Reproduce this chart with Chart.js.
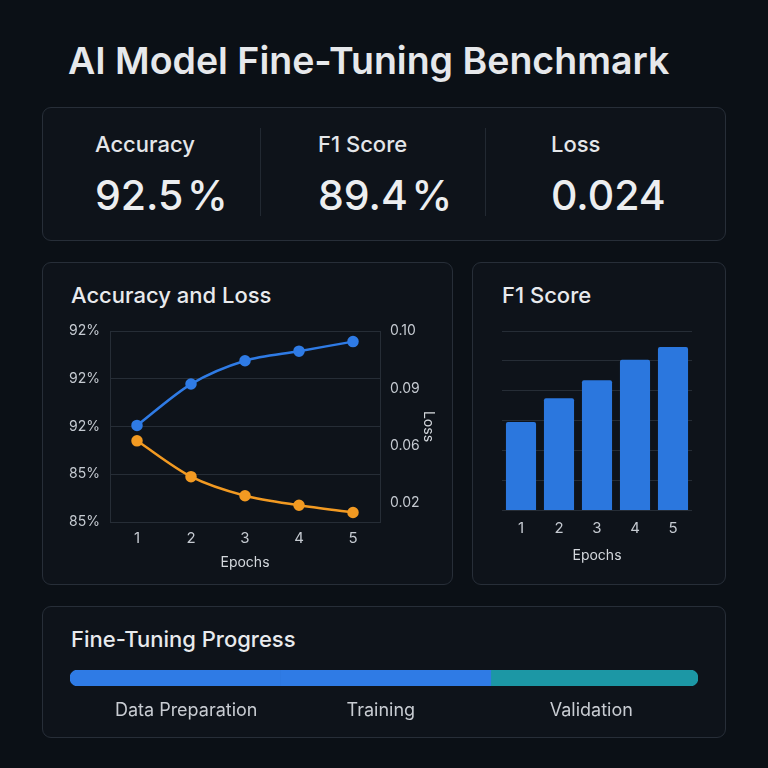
<!DOCTYPE html>
<html>
<head>
<meta charset="utf-8">
<title>AI Model Fine-Tuning Benchmark</title>
<script src="https://cdn.jsdelivr.net/npm/chart.js@4.4.1/dist/chart.umd.min.js"></script>
<style>
  html, body { margin: 0; padding: 0; }
  body {
    width: 768px; height: 768px; overflow: hidden; position: relative;
    background: #0b1016; font-family: Inter, "Noto Sans", sans-serif; color: #e8eaed;
  }
  .abs { position: absolute; }
  .card {
    position: absolute; box-sizing: border-box;
    background: #0e131a; border: 1px solid #272e38; border-radius: 9px;
  }
  .title { left: 68px; top: 42px; font-size: 37.5px; line-height: 38px; font-weight: 600; color: #e6e8eb; white-space: nowrap; }
  .kpi-label { font-size: 22px; line-height: 22px; font-weight: 500; color: #e4e6e9; white-space: nowrap; }
  .kpi-value { font-size: 41px; line-height: 42px; font-weight: 500; color: #eceef0; white-space: nowrap; }
  .divider { width: 1px; background: #222932; }
  .card-title { font-size: 22px; line-height: 22px; font-weight: 500; color: #e8eaed; white-space: nowrap; }
  canvas { position: absolute; }
</style>
</head>
<body>
<div class="abs title">AI Model Fine-Tuning Benchmark</div>

<div class="card" style="left:42px;top:107px;width:684px;height:134px;"></div>
<div id="kpis"></div>
<div class="abs divider" style="left:260px;top:128px;height:88px;"></div>
<div class="abs divider" style="left:485px;top:128px;height:88px;"></div>

<div class="card" style="left:42px;top:262px;width:411px;height:323px;"></div>
<div class="abs card-title" style="left:71px;top:284px;">Accuracy and Loss</div>
<canvas id="lineChart" style="left:42px;top:262px;" width="411" height="323"></canvas>

<div class="card" style="left:472px;top:262px;width:254px;height:323px;"></div>
<div class="abs card-title" style="left:502px;top:284px;">F1 Score</div>
<canvas id="barChart" style="left:472px;top:262px;" width="254" height="323"></canvas>

<div class="card" style="left:42px;top:606px;width:684px;height:132px;"></div>
<div class="abs card-title" style="left:71px;top:628px;">Fine-Tuning Progress</div>
<canvas id="progressChart" style="left:42px;top:606px;" width="684" height="132"></canvas>

<script>
// KPI numbers
const kpiLabels = ["Accuracy", "F1 Score", "Loss"];
const kpiValues = ["92.5\u200a%", "89.4\u200a%", "0.024"];
const kpiX = [95, 318, 551];

// Accuracy / loss per epoch
const epochs = ["1", "2", "3", "4", "5"];
const accuracy = [88.55, 90.5, 91.6, 92.05, 92.5];
const loss = [0.054, 0.039, 0.031, 0.027, 0.024];
const accTicks = [84, 86.25, 88.5, 90.75, 93];
const accTickLabels = ["85%", "85%", "92%", "92%", "92%"];
const lossTicks = [0.028, 0.052, 0.076, 0.1];
const lossTickLabels = ["0.02", "0.06", "0.09", "0.10"];

// F1 score per epoch
const f1Scores = [73.7, 78.5, 82.1, 86.2, 88.8];

// progress stages
const stages = ["Data Preparation", "Training", "Validation"];
const stageValues = [33.5, 33.5, 33];
const stageLabelAt = [18.5, 49.5, 83];

const BLUE = "#2f7be5";
const ORANGE = "#f29a22";
const TEAL = "#1c97a5";
const GRID = "#262d36";
const TICK = "#c5cad1";

Chart.defaults.font.family = "Inter, 'Noto Sans', sans-serif";
Chart.defaults.color = TICK;
Chart.defaults.animation = false;

// fill the KPI row
const kpiBox = document.getElementById("kpis");
for (let i = 0; i < kpiLabels.length; i++) {
    const l = document.createElement("div");
    l.className = "abs kpi-label";
    l.style.left = kpiX[i] + "px";
    l.style.top = "133px";
    l.textContent = kpiLabels[i];
    kpiBox.appendChild(l);
    const v = document.createElement("div");
    v.className = "abs kpi-value";
    v.style.left = kpiX[i] + "px";
    v.style.top = "174px";
    v.textContent = kpiValues[i];
    kpiBox.appendChild(v);
}

// Accuracy and Loss
new Chart(document.getElementById("lineChart"), {
    type: "line",
    data: {
        labels: epochs,
        datasets: [
            {
                label: "Accuracy",
                data: accuracy,
                yAxisID: "y",
                borderColor: BLUE,
                backgroundColor: BLUE,
                borderWidth: 2.5,
                pointRadius: 4.5,
                tension: 0.3
            },
            {
                label: "Loss",
                data: loss,
                yAxisID: "y1",
                borderColor: ORANGE,
                backgroundColor: ORANGE,
                borderWidth: 2.5,
                pointRadius: 4.5,
                tension: 0.3
            }
        ]
    },
    options: {
        responsive: false,
        layout: { padding: { top: 69, left: 0, right: 0, bottom: 0 } },
        plugins: { legend: { display: false }, tooltip: { enabled: false } },
        scales: {
            x: {
                offset: true,
                grid: { display: false, drawTicks: false },
                border: { color: GRID },
                ticks: { padding: 7, font: { size: 15 }, color: TICK },
                title: { display: true, text: "Epochs", font: { size: 14 }, color: "#d4d8dd", padding: { top: 4, bottom: 14 } },
                afterFit: (axis) => { axis.height = 63; }
            },
            y: {
                position: "left",
                min: 84,
                max: 93,
                afterBuildTicks: (axis) => { axis.ticks = accTicks.map(v => ({ value: v })); },
                grid: { color: GRID, drawTicks: false },
                border: { color: GRID },
                ticks: { padding: 10, font: { size: 14 }, color: TICK, callback: (v, i) => accTickLabels[i] },
                afterFit: (axis) => { axis.width = 68; }
            },
            y1: {
                position: "right",
                min: 0.02,
                max: 0.1,
                afterBuildTicks: (axis) => { axis.ticks = lossTicks.map(v => ({ value: v })); },
                grid: { drawOnChartArea: false, drawTicks: false },
                border: { color: GRID },
                ticks: { padding: 10, font: { size: 14 }, color: TICK, callback: (v, i) => lossTickLabels[i] },
                title: { display: true, text: "Loss", font: { size: 14 }, color: "#d4d8dd", padding: { top: 16 } },
                afterFit: (axis) => { axis.width = 73; }
            }
        }
    }
});

// F1 Score bars
new Chart(document.getElementById("barChart"), {
    type: "bar",
    data: {
        labels: epochs,
        datasets: [{
            label: "F1 Score",
            data: f1Scores,
            backgroundColor: "#2b77de",
            borderRadius: 2,
            barPercentage: 0.88,
            categoryPercentage: 0.9
        }]
    },
    options: {
        responsive: false,
        layout: { padding: { top: 69, left: 30, right: 34, bottom: 0 } },
        plugins: { legend: { display: false }, tooltip: { enabled: false } },
        scales: {
            x: {
                grid: { display: false, drawTicks: false },
                border: { display: false },
                ticks: { padding: 9, font: { size: 15 }, color: TICK },
                title: { display: true, text: "Epochs", font: { size: 14 }, color: "#d4d8dd", padding: { top: 4, bottom: 21 } },
                afterFit: (axis) => { axis.height = 75; }
            },
            y: {
                min: 56,
                max: 92,
                ticks: { display: false, stepSize: 6 },
                grid: { color: GRID, drawTicks: false },
                border: { display: false },
                afterFit: (axis) => { axis.width = 0; }
            }
        }
    }
});

// Fine-Tuning Progress
const stageColors = [BLUE, BLUE, TEAL];
const stageRadius = [
    { topLeft: 8, bottomLeft: 8, topRight: 0, bottomRight: 0 },
    0,
    { topLeft: 0, bottomLeft: 0, topRight: 8, bottomRight: 8 }
];
new Chart(document.getElementById("progressChart"), {
    type: "bar",
    data: {
        labels: ["Progress"],
        datasets: stages.map((s, i) => ({
            label: s,
            data: [stageValues[i]],
            backgroundColor: stageColors[i],
            borderSkipped: false,
            borderRadius: stageRadius[i],
            barPercentage: 1,
            categoryPercentage: 1
        }))
    },
    options: {
        indexAxis: "y",
        responsive: false,
        layout: { padding: { top: 64, left: 28, right: 28, bottom: 0 } },
        plugins: { legend: { display: false }, tooltip: { enabled: false } },
        scales: {
            x: {
                stacked: true,
                min: 0,
                max: 100,
                afterBuildTicks: (axis) => { axis.ticks = stageLabelAt.map(v => ({ value: v })); },
                grid: { display: false, drawTicks: false },
                border: { display: false },
                ticks: { padding: 14, font: { size: 18 }, color: "#c8ccd2", maxRotation: 0, callback: (v, i) => stages[i] },
                afterFit: (axis) => { axis.height = 52; }
            },
            y: {
                stacked: true,
                display: false
            }
        }
    }
});
</script>
</body>
</html>
